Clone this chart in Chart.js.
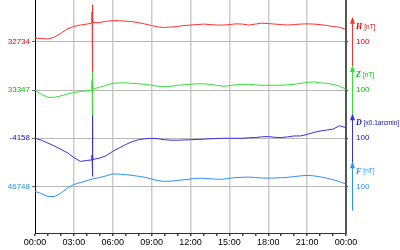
<!DOCTYPE html>
<html>
<head>
<meta charset="utf-8">
<script src="https://cdn.jsdelivr.net/npm/chart.js@4.4.1/dist/chart.umd.min.js"></script>
<style>
  html, body { margin: 0; padding: 0; background: #fff; }
  #wrap { width: 400px; height: 250px; }
</style>
</head>
<body>
<div id="wrap"><canvas id="mag" width="400" height="250"></canvas></div>
<script>
// hours of the day (UT), half-hour readings
const hours = [0,0.5,1,1.5,2,2.5,3,3.5,4,4.5,5,5.5,6,6.5,7,7.5,8,8.5,9,9.5,10,10.5,11,11.5,
  12,12.5,13,13.5,14,14.5,15,15.5,16,16.5,17,17.5,18,18.5,19,19.5,20,20.5,21,21.5,22,22.5,23,23.5,24];

// deviations from baseline (nT, D in 0.1 arcmin)
const hVals = [8,7,6,10,18,27,32,35,37,40,40,43,44,44,43,42,40,37,34,31,30,31,32,34,
  35,36,37,36,35,35,36,37.5,37,35,37,39,38,37,36,35,36,37,37.5,37,36,34,32,30.5,26];
const zVals = [0,-9,-15,-15,-12,-8,-5,-3,-1.5,2,6,10,14,15,15,14,13,12,10,8,7,8,10,11,
  12,13,13,12,10,8,9,11,12,12,11,10,10,10,10,11,12,14,16,17,15,14,12,8,2];
const dVals = [0,-4,-10,-16,-23,-30,-40,-48,-46,-44,-41,-36,-27,-20,-13,-7,-3,-1,0,-1,-3,-4,-4,-3.5,
  -3,-2.5,-2,-1,-0.5,0,0,0,0,1,1.5,3,3.5,2,1.5,3,4.8,4.8,8,12,15,17,19,26,22];
const fVals = [-10,-15,-21,-21,-14,-3,4,8,12,16,18.5,22,26,25.5,24.5,23,21,19,15.5,12,10.5,11,12.5,14,
  15.5,17,17,16,15,15,17,18.5,19,19.5,18.5,17.5,17.3,17.5,18,19,20.5,22,23,22,20,17.3,14,10,5];

// short disturbance around 04:27
const spikeHours = [4.38,4.40,4.42,4.43,4.44,4.45,4.46,4.47,4.48];
const hSpike = [39,62,28,77,-62,58,30,50,41];
const zSpike = [0,20,-15,37,-52,15,-10,8,2];
const dSpike = [-45,-35,-55,50,-79,-25,-60,-35,-44];

const baseLabels = ['46748','-4158','33347','32734'];
const names = ['F','D','Z','H'];
const units = ['[nT]','[x0.1arcmin]','[nT]','[nT]'];
const scaleLabel = '100';
const xLabels = ['00:00','03:00','06:00','09:00','12:00','15:00','18:00','21:00','00:00'];

const colors = ['#2a90ff','#3a2ee0','#33e033','#ff3030'];
const labelColors = ['#1e90ff','#1010cc','#00bb00','#e00000'];
const offsets = [100,200,300,400];

function series(vals, off, sx, sv) {
  const pts = hours.map((h, i) => ({x: h, y: off + vals[i]}));
  if (sx) sx.forEach((h, i) => pts.push({x: h, y: off + sv[i]}));
  return pts.sort((a, b) => a.x - b.x);
}

const datasets = [
  {data: series(hVals, offsets[3], spikeHours, hSpike), borderColor: colors[3]},
  {data: series(zVals, offsets[2], spikeHours, zSpike), borderColor: colors[2]},
  {data: series(dVals, offsets[1], spikeHours, dSpike), borderColor: colors[1]},
  {data: series(fVals, offsets[0]), borderColor: colors[0]}
].map(d => Object.assign(d, {borderWidth: 1, pointRadius: 0, tension: 0, fill: false}));

function colorFor(v) {
  const i = offsets.indexOf(v);
  return i < 0 ? '#000' : labelColors[i];
}

function noPad(s) {
  s.paddingTop = 0;
  s.paddingBottom = 0;
}

const arrows = {
  id: 'arrows',
  afterDraw(chart) {
    const c = chart.ctx, y = chart.scales.y, x0 = chart.chartArea.right + 6;
    c.save();
    offsets.forEach((off, i) => {
      const top = y.getPixelForValue(off + 50), bot = y.getPixelForValue(off - 50);
      c.strokeStyle = colors[i];
      c.fillStyle = colors[i];
      c.lineWidth = 1;
      c.beginPath();
      c.moveTo(x0 + 0.5, bot);
      c.lineTo(x0 + 0.5, top + 4);
      c.stroke();
      c.beginPath();
      c.moveTo(x0 + 0.5, top - 1);
      c.lineTo(x0 - 2, top + 6);
      c.lineTo(x0 + 3, top + 6);
      c.closePath();
      c.fill();
      const ly = y.getPixelForValue(off) - 15;
      c.fillStyle = labelColors[i];
      c.textBaseline = 'middle';
      c.font = 'italic bold 8px "Liberation Serif", serif';
      c.fillText(names[i], x0 + 4, ly);
      const w = c.measureText(names[i]).width;
      c.font = '6.5px "Liberation Sans", Arial, sans-serif';
      c.fillText(units[i], x0 + 6 + w, ly);
    });
    c.restore();
  }
};

new Chart(document.getElementById('mag'), {
  type: 'line',
  data: {datasets},
  plugins: [arrows],
  options: {
    responsive: false,
    animation: false,
    layout: {padding: 0},
    plugins: {legend: {display: false}, tooltip: {enabled: false}},
    scales: {
      x: {
        type: 'linear', min: 0, max: 24,
        afterBuildTicks: s => { s.ticks = hours.filter(h => h % 1 === 0).map(v => ({value: v})); },
        afterFit: s => { s.height = 17; },
        ticks: {
          autoSkip: false, maxRotation: 0, padding: 1,
          color: '#000',
          font: {family: '"Liberation Sans", Arial, sans-serif', size: 9},
          callback: v => (v % 3 === 0 ? xLabels[v / 3] : '')
        },
        grid: {
          color: ctx => (ctx.tick && ctx.tick.value % 3 === 0 && ctx.tick.value > 0 && ctx.tick.value < 24) ? '#cccccc' : 'rgba(0,0,0,0)',
          lineWidth: 1.5,
          tickColor: '#444', tickLength: 3
        },
        border: {color: '#333', width: 1}
      },
      y: {
        position: 'left', min: 3.4, max: 487,
        afterBuildTicks: s => { s.ticks = offsets.map(v => ({value: v})); },
        afterFit: s => { s.width = 35; noPad(s); },
        ticks: {
          padding: 2,
          color: ctx => colorFor(ctx.tick.value),
          font: {family: '"Liberation Sans", Arial, sans-serif', size: 8},
          callback: v => baseLabels[offsets.indexOf(v)]
        },
        grid: {color: '#b8b8b8', lineWidth: 1, tickColor: '#666', tickLength: 3},
        border: {color: '#000', width: 1}
      },
      y2: {
        position: 'right', min: 3.4, max: 487,
        afterBuildTicks: s => { s.ticks = offsets.map(v => ({value: v})); },
        afterFit: s => { s.width = 54; noPad(s); },
        ticks: {
          padding: 8,
          color: ctx => colorFor(ctx.tick.value),
          font: {family: '"Liberation Sans", Arial, sans-serif', size: 8},
          callback: () => scaleLabel
        },
        grid: {drawOnChartArea: false, tickColor: '#555', tickLength: 2},
        border: {color: '#555', width: 2}
      }
    }
  }
});
</script>
</body>
</html>
